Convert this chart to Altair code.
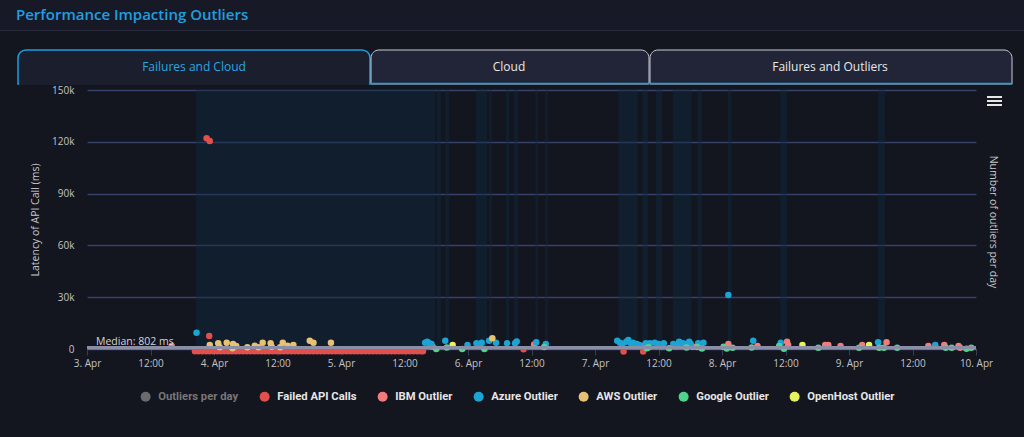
import altair as alt
import pandas as pd

# ---------------- data (hours since 3 Apr 00:00, latency in ms) ----------------
failed_h = [22.6, 23.2, 23.1,
            20.4, 21.1, 21.8, 22.5, 23.2, 23.9, 24.6, 25.3, 26.0, 26.7, 27.4, 28.1, 28.8,
            29.5, 30.2, 30.9, 31.6, 32.3, 33.0, 33.7, 34.4, 35.1, 35.8, 36.5, 37.2, 37.9,
            38.6, 39.3, 40.0, 40.7, 41.4, 42.1, 42.8, 43.5, 44.2, 44.9, 45.6, 46.3, 47.0,
            47.7, 48.4, 49.1, 49.8, 50.5, 51.2, 51.9, 52.6, 53.3, 54.0, 54.7, 55.4, 56.1,
            56.8, 57.5, 58.2, 58.9, 59.6, 60.3, 61.0, 61.7, 62.4, 63.1, 63.5,
            82.5, 101.4, 105.1]
failed_ms = [122000, 120400, 7500,
             -1300, -1300, -1300, -1300, -1300, -1300, -1300, -1300, -1300, -1300, -1300, -1300, -1300,
             -1300, -1300, -1300, -1300, -1300, -1300, -1300, -1300, -1300, -1300, -1300, -1300, -1300,
             -1300, -1300, -1300, -1300, -1300, -1300, -1300, -1300, -1300, -1300, -1300, -1300, -1300,
             -1300, -1300, -1300, -1300, -1300, -1300, -1300, -1300, -1300, -1300, -1300, -1300, -1300,
             -1300, -1300, -1300, -1300, -1300, -1300, -1300, -1300, -1300, -1300, -1300,
             -150, -1500, -1500]

ibm_h = [16.0, 65.3, 84.5, 105.0, 108.2, 111.1, 114.5, 121.2, 126.7, 132.3, 132.5,
         139.5, 140.1, 142.4, 146.5, 151.1, 159.0, 162.0, 164.7, 165.0]
ibm_ms = [1700, 1450, 2600, 1700, 2300, 1700, 1350, 2900, 1700, 4200, 2300,
          2300, 2300, 1700, 2300, 3900, 1700, 2300, 1700, 750]

azure_h = [20.7, 63.9, 64.3, 64.7, 65.1, 67.7, 71.9, 73.6, 74.3, 74.6, 76.0, 77.3, 79.4,
           80.9, 81.2, 84.9, 86.7,
           100.2, 100.7, 101.2, 101.9, 102.3, 102.8, 103.2, 103.9, 104.4, 105.6, 106.4,
           107.3, 108.0, 108.6, 109.0, 110.8, 111.3, 111.9, 112.2, 112.6, 113.0, 113.8,
           114.1, 115.5, 116.5, 121.2, 125.9, 131.1, 149.5, 160.3]
azure_ms = [9400, 3650, 4200, 3300, 2900, 4800, 2300, 3300, 2900, 3650, 4800, 3650, 3300,
            3300, 4300, 3900, 2900,
            4800, 3650, 2900, 4200, 5200, 3300, 3650, 2900, 2300, 3300, 3300,
            3650, 2900, 1150, 3300, 2900, 1350, 4200, 2300, 3300, 2900, 4200,
            2900, 3300, 3650, 31300, 4800, 3650, 3900, 2300]

aws_h = [23.2, 24.8, 25.1, 26.4, 27.6, 28.2, 27.5, 30.3, 31.7, 32.4, 33.2, 34.7, 34.9,
         36.5, 37.0, 37.9, 39.0, 42.1, 42.8, 46.1, 76.6]
aws_ms = [2300, 3300, 1000, 3650, 2900, 1700, 400, 1000, 1900, 1000, 3650, 3300, 1350,
          1000, 3650, 1900, 2300, 4800, 3650, 3650, 6250]

google_h = [66.0, 68.0, 70.9, 75.1, 86.4, 105.8, 106.1, 110.0, 113.3, 115.3, 116.2,
            120.3, 120.9, 122.0, 125.6, 130.8, 131.7, 138.2, 145.9, 149.7, 150.6,
            153.1, 162.3, 163.4, 166.2, 167.1]
google_ms = [0, 870, 0, 0, 1150, 400, 1000, 400, 870, 1150, 300,
             1350, 300, 700, 870, 1700, 200, 750, 750, 750, 750,
             750, 750, 750, 200, 750]

openhost_h = [69.1, 135.2, 147.8]
openhost_ms = [2300, 2300, 2300]

# highlighted periods (plot bands), hours
band_start = [20.6, 66.1, 67.7, 73.5, 76.0, 79.2, 80.7, 84.7, 86.6,
              100.4, 104.9, 107.5, 110.7, 115.3, 121.1, 131.0, 149.5]
band_end = [65.8, 66.9, 68.4, 75.6, 76.5, 79.8, 81.5, 85.2, 87.1,
            104.1, 106.0, 108.7, 114.3, 116.2, 121.8, 132.3, 150.8]

median_ms = 802
x_ticks = [0, 12, 24, 36, 48, 60, 72, 84, 96, 108, 120, 132, 144, 156, 168]
y_ticks = [0, 30000, 60000, 90000, 120000, 150000]

legend_names = ["Outliers per day", "Failed API Calls", "IBM Outlier", "Azure Outlier",
                "AWS Outlier", "Google Outlier", "OpenHost Outlier"]
legend_colors = ["#6b6b6b", "#e0504c", "#f27c7c", "#1ba4d4", "#e8c274", "#4fd48b", "#e4f35e"]

series = [("Failed API Calls", failed_h, failed_ms), ("IBM Outlier", ibm_h, ibm_ms),
          ("Azure Outlier", azure_h, azure_ms), ("AWS Outlier", aws_h, aws_ms),
          ("Google Outlier", google_h, google_ms), ("OpenHost Outlier", openhost_h, openhost_ms)]
rows = []
for name, hs, ms in series:
    for h, m in zip(hs, ms):
        rows.append({"series": name, "hour": h, "ms": m})
df = pd.DataFrame(rows)
bands = pd.DataFrame({"start": band_start, "end": band_end})
one = pd.DataFrame({"k": [0]})

# ---------------- layout ----------------
W, H = 889, 259
FONT = "Open Sans"
BG = "#13151f"

xscale = alt.Scale(domain=[0, 168], nice=False, zero=False)
yscale = alt.Scale(domain=[0, 150000], nice=False, zero=False)

x_axis = alt.Axis(values=x_ticks, title=None, grid=False, labelOverlap=False, labelFlush=False,
                  labelExpr="datum.value % 24 == 0 ? (3 + datum.value / 24) + '. Apr' : '12:00'",
                  domainColor="#6f7390", tickColor="#383d55", tickSize=6, labelPadding=3,
                  labelColor="#c3c3c3", labelFontSize=10, labelFont=FONT)
y_axis = alt.Axis(values=y_ticks, grid=True, gridColor="#36426a", gridWidth=1.5,
                  labelExpr="datum.value == 0 ? '0' : (datum.value / 1000) + 'k'",
                  domain=False, ticks=False, labelPadding=13, labelColor="#c3c3c3",
                  labelFontSize=10, labelFont=FONT, title="Latency of API Call (ms)",
                  titleColor="#c8c8c8", titleFontSize=10.5, titleFontWeight="normal",
                  titleFont=FONT, titlePadding=11)

def deco_rect(x1, x2, y1, y2, fill, stroke=None, sw=0, r=0):
    kw = dict(fill=fill)
    if stroke:
        kw.update(stroke=stroke, strokeWidth=sw)
    if r:
        kw.update(cornerRadiusTopLeft=r, cornerRadiusTopRight=r)
    return alt.Chart(one).mark_rect(**kw).encode(
        x=alt.value(x1), x2=alt.value(x2), y=alt.value(y1), y2=alt.value(y2))

def deco_text(txt, x, y, color, size, weight="normal", align="center", angle=0, font=FONT):
    kw = dict(color=color, fontSize=size, fontWeight=weight, align=align, baseline="middle", font=font)
    if angle:
        kw["angle"] = angle
    return alt.Chart(one).mark_text(**kw).encode(
        x=alt.value(x), y=alt.value(y), text=alt.value(txt))

def deco_rule(x1, x2, y, color, sw):
    return alt.Chart(one).mark_rule(color=color, strokeWidth=sw).encode(
        x=alt.value(x1), x2=alt.value(x2), y=alt.value(y))

header = deco_rect(-87, 937, -90, -60, "#171926")
header_line = deco_rule(-87, 937, -59.5, "#262a3b", 1)
title = deco_text("Performance Impacting Outliers", -71, -75, "#1f9fe0", 15, 600, align="left")

tab1 = deco_rect(-69, 283, -40, -6, "#1b1e2c", "#1a9fe3", 1.5, 8)
tab2 = deco_rect(284, 562, -40, -6, "#222538", "#c9cbd6", 1, 8)
tab3 = deco_rect(563, 925, -40, -6, "#222538", "#c9cbd6", 1, 8)
tab1_bottom = deco_rule(-68, 282, -6, "#1b1e2c", 2)
tabs_bottom = deco_rule(283, 926, -6.5, "#1a9fe3", 1.5)
tab1_label = deco_text("Failures and Cloud", 107, -23, "#2aa6e2", 12)
tab2_label = deco_text("Cloud", 422, -23, "#e8e8e8", 12)
tab3_label = deco_text("Failures and Outliers", 743, -23, "#e8e8e8", 12)

band_layer = alt.Chart(bands).mark_rect(color="#0f2a3f", opacity=0.45).encode(
    x=alt.X("start:Q", scale=xscale, axis=x_axis),
    x2="end:Q",
    y=alt.value(0), y2=alt.value(H))

points = alt.Chart(df).mark_circle(size=42, opacity=1).encode(
    x=alt.X("hour:Q", scale=xscale, axis=x_axis),
    y=alt.Y("ms:Q", scale=yscale, axis=y_axis),
    color=alt.Color("series:N", scale=alt.Scale(domain=legend_names, range=legend_colors),
                    legend=alt.Legend(orient="none", legendX=53, legendY=301, direction="horizontal",
                                      title=None, symbolType="circle", symbolSize=100,
                                      symbolStrokeWidth=0, symbolOpacity=1,
                                      labelFont="Roboto", labelFontSize=11.25,
                                      labelFontWeight="bold",
                                      labelColor={"expr": "datum.label == 'Outliers per day' ? '#777777' : '#e6e6e6'"},
                                      columnPadding=20, labelOffset=7)),
)

median_rule = alt.Chart(one).mark_rule(color="#8a8ea6", strokeWidth=3).encode(
    y=alt.datum(median_ms), x=alt.value(0), x2=alt.value(W))
median_text = alt.Chart(one).mark_text(align="left", baseline="bottom", dy=-1, color="#d5d5d5",
                                       fontSize=10.5, font=FONT).encode(
    x=alt.value(9), y=alt.datum(median_ms), text=alt.value("Median: 802 ms"))

right_title = deco_text("Number of outliers per day", 906, 132, "#c8c8c8", 10.5, angle=90)
menu = [deco_rule(900, 915, yy, "#e6e6e6", 2) for yy in (7, 11, 15)]

chart = alt.layer(
    header, header_line, title,
    tab1, tab2, tab3, tab1_bottom, tabs_bottom, tab1_label, tab2_label, tab3_label,
    band_layer, points, median_rule, median_text, right_title, *menu
).properties(
    width=W, height=H,
    autosize=alt.AutoSizeParams(type="none"),
    padding={"left": 87, "top": 90, "right": 48, "bottom": 88},
    background=BG,
).configure_view(stroke=None)

chart.save("out.html", embed_options={"renderer": "svg", "actions": False})
